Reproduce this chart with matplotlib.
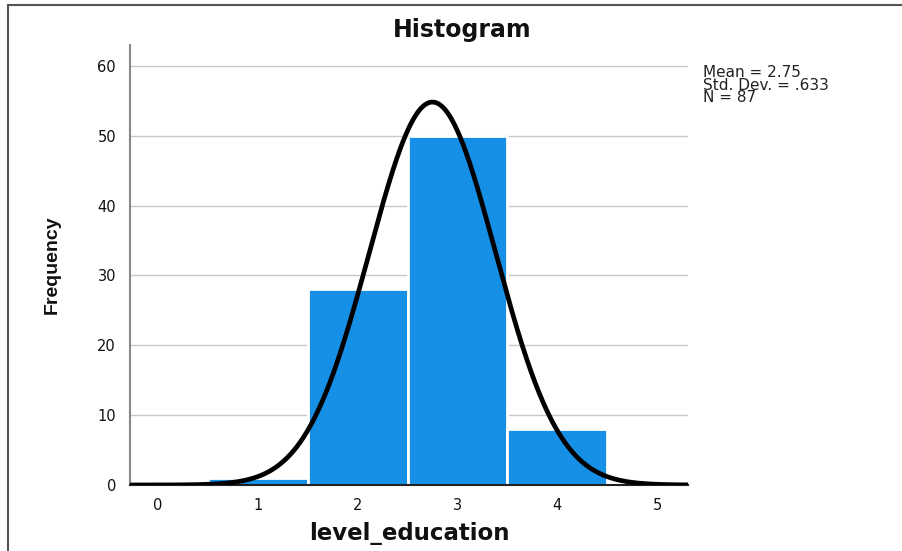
import numpy as np
import matplotlib
matplotlib.use("Agg")
import matplotlib.pyplot as plt
from matplotlib.lines import Line2D

plt.rcParams['font.family'] = ['DejaVu Sans']

# Data
categories = [1, 2, 3, 4]
frequencies = [1, 28, 50, 8]
mean = 2.75
std_dev = 0.633
n_total = 87
x_ticks = [0, 1, 2, 3, 4, 5]
y_ticks = [0, 10, 20, 30, 40, 50, 60]

fig = plt.figure(figsize=(9.03, 5.51), dpi=100)
ax = fig.add_axes([130/903, 1-485/551, (688-130)/903, (485-45)/551])

ax.bar(categories, frequencies, width=1.0, color='#1690e6',
       edgecolor='white', linewidth=2.0, zorder=2)

xs = np.linspace(-0.28, 5.31, 600)
pdf = n_total * 1.0 / (std_dev * np.sqrt(2*np.pi)) * np.exp(-0.5*((xs-mean)/std_dev)**2)
ax.plot(xs, pdf, color='black', linewidth=3.4, zorder=3, solid_capstyle='butt')

ax.set_xlim(-0.28, 5.31)
ax.set_ylim(0, 63)
ax.set_xticks(x_ticks)
ax.set_yticks(y_ticks)
ax.set_xticklabels([str(t) for t in x_ticks])
ax.set_yticklabels([str(t) for t in y_ticks])
ax.yaxis.grid(True, color='#c8c8c8', linewidth=1.0, zorder=0)
ax.set_axisbelow(True)
ax.tick_params(axis='both', length=0, labelsize=10.5, colors='#111111')
ax.tick_params(axis='x', pad=9)
ax.tick_params(axis='y', pad=10)

for s in ['top', 'right']:
    ax.spines[s].set_visible(False)
ax.spines['left'].set_color('#888888')
ax.spines['left'].set_linewidth(1.5)
ax.spines['left'].set_bounds(0, 63)
ax.spines['bottom'].set_color('#222222')
ax.spines['bottom'].set_linewidth(1.5)

fig.text(462/903, 1-37/551, 'Histogram', fontsize=17, fontweight='bold',
         ha='center', va='baseline', color='#111111')
ax.set_xlabel('level_education', fontsize=16.5, fontweight='bold', labelpad=7,
              color='#111111')
ax.set_ylabel('Frequency', fontsize=14, family=['Liberation Sans'], fontweight='bold',
              labelpad=26, color='#111111')

fig.text(703/903, 1-65/551, 'Mean = 2.75\nStd. Dev. = .633\nN = 87',
         fontsize=11, va='top', ha='left', linespacing=0.8, color='#222222')

# frame lines at top and left
fig.add_artist(Line2D([8/903, 8/903], [0, 1-5/551], transform=fig.transFigure,
                      color='#555555', linewidth=1.5))
fig.add_artist(Line2D([8/903, 902/903], [1-5/551, 1-5/551], transform=fig.transFigure,
                      color='#555555', linewidth=1.5))

fig.savefig('out.png', dpi=100)
